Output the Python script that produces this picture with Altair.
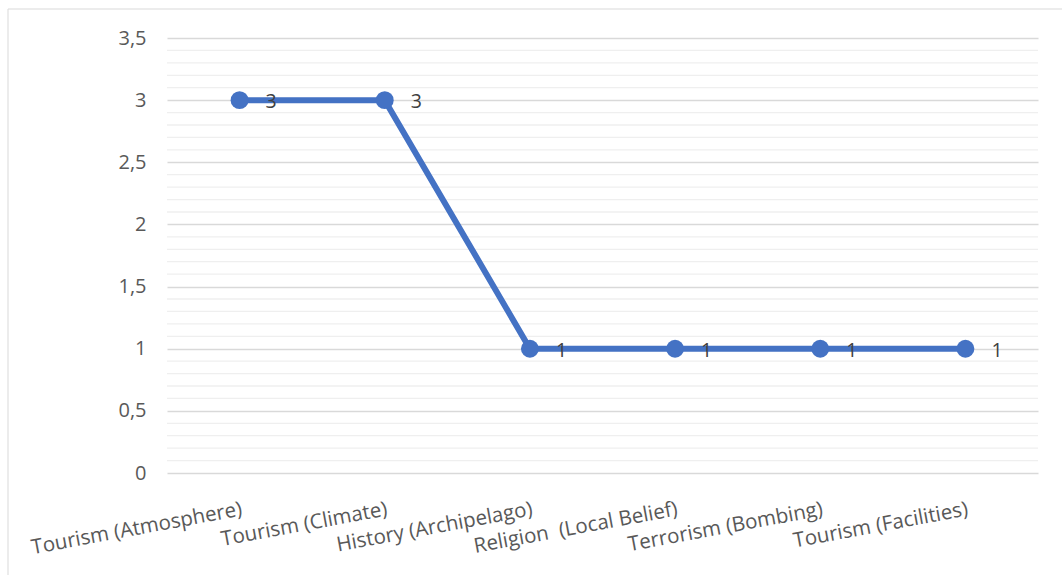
import altair as alt
import pandas as pd

categories = [
    "Tourism (Atmosphere)",
    "Tourism (Climate)",
    "History (Archipelago)",
    "Religion \u00a0(Local Belief)",
    "Terrorism (Bombing)",
    "Tourism (Facilities)",
]
values = [3, 3, 1, 1, 1, 1]
major_ticks = [0, 0.5, 1, 1.5, 2, 2.5, 3, 3.5]
minor_ticks = [0.1, 0.2, 0.3, 0.4, 0.6, 0.7, 0.8, 0.9,
               1.1, 1.2, 1.3, 1.4, 1.6, 1.7, 1.8, 1.9,
               2.1, 2.2, 2.3, 2.4, 2.6, 2.7, 2.8, 2.9,
               3.1, 3.2, 3.3, 3.4]

df = pd.DataFrame({"cat": categories, "val": values, "order": list(range(len(categories)))})
minor_df = pd.DataFrame({"v": minor_ticks})

FONT = "Open Sans"
BLUE = "#4472C4"
W, H = 871, 435

yscale = alt.Scale(domain=[0, 3.5], nice=False, zero=True)
yaxis = alt.Axis(title=None, values=major_ticks, grid=True, gridColor="#d9d9d9",
                 gridWidth=1.3, domain=False, ticks=False, labelPadding=21,
                 labelFontSize=20, labelColor="#595959", labelFont=FONT,
                 format="~g",
                 labelExpr="replace(datum.label, '.', ',')")
xenc = alt.X("cat:N", sort=categories, scale=alt.Scale(type="point", padding=0.5),
             axis=alt.Axis(title=None, labelAngle=349.5, labelAlign="right", labelBaseline="top",
                           labelPadding=26, labelFontSize=20.5, labelColor="#595959",
                           labelFont=FONT, domain=False, ticks=False, grid=False,
                           labelOverlap=False, labelLimit=400))

minor = alt.Chart(minor_df).mark_rule(color="#efefef", strokeWidth=1.3).encode(
    y=alt.Y("v:Q", scale=yscale, axis=yaxis)
)

base = alt.Chart(df).encode(
    x=xenc,
    y=alt.Y("val:Q", scale=yscale, axis=yaxis),
    order="order:Q",
)

line = base.mark_line(color=BLUE, strokeWidth=6)
pts = base.mark_point(color=BLUE, filled=True, opacity=1, size=320)
labels = base.mark_text(align="left", baseline="middle", dx=26, dy=2, fontSize=19.5,
                        font=FONT, color="#404040").encode(text="val:Q")

frame = alt.Chart(pd.DataFrame({"a": [0]})).mark_rect(
    fill=None, stroke="#d9d9d9", strokeWidth=1
).encode(x=alt.value(-159), x2=alt.value(1062 - 167 + 20),
         y=alt.value(-29), y2=alt.value(575 - 38 + 20))

chart = alt.layer(minor, frame, line, pts, labels).properties(
    width=W, height=H,
    autosize=alt.AutoSizeParams(type="none"),
    padding={"left": 167, "top": 38, "right": 24, "bottom": 102},
).configure(background="white", view=alt.ViewConfig(stroke=None))

chart.save("out.html", embed_options={"renderer": "svg", "actions": False})
